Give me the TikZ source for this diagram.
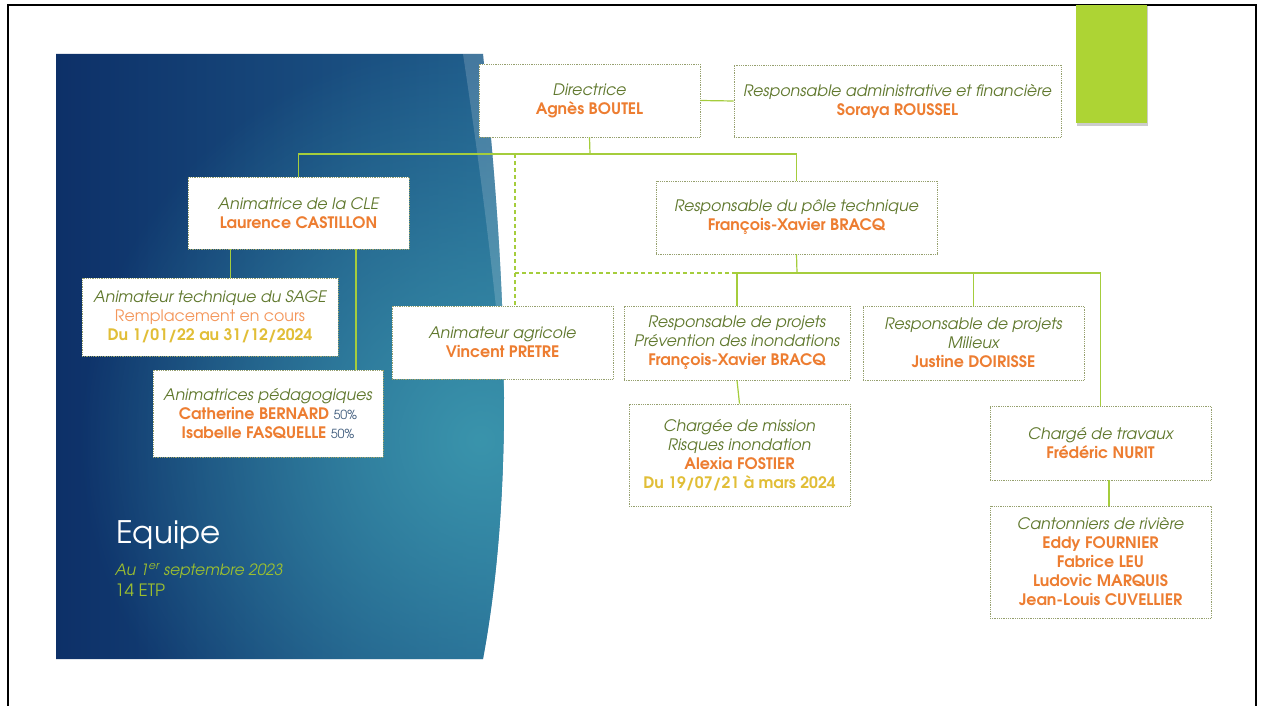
\documentclass[tikz,border=0pt]{standalone}
\usepackage{fontspec}
\setmainfont{texgyreadventor}[Extension=.otf, UprightFont=*-regular, BoldFont=*-bold, ItalicFont=*-italic, BoldItalicFont=*-bolditalic]
\usetikzlibrary{calc,positioning,fadings}
\definecolor{my_olive}{RGB}{96,120,45}
\definecolor{my_orange}{RGB}{237,125,49}
\definecolor{my_lightorange}{RGB}{244,150,90}
\definecolor{my_gold}{RGB}{225,190,55}
\definecolor{my_slate}{RGB}{68,96,128}
\definecolor{my_lime}{RGB}{165,205,60}
\definecolor{my_border}{RGB}{150,160,110}
\definecolor{my_green}{RGB}{173,212,52}
\definecolor{my_navy}{RGB}{13,48,104}
\definecolor{my_blue}{RGB}{33,96,142}
\definecolor{my_teal}{RGB}{58,148,172}
\newcommand{\fonction}[1]{{\itshape\color{my_olive}#1}}
\newcommand{\agent}[1]{{\bfseries\color{my_orange}#1}}
\newcommand{\periode}[1]{{\bfseries\color{my_gold}#1}}
\newcommand{\taux}[1]{{\fontsize{12.5}{14}\selectfont\color{my_slate}#1}}
\tikzfading[name=lueur, inner color=transparent!0, outer color=transparent!100]
\tikzset{
  orgbox/.style = {align=center, inner sep=2pt, rectangle, draw=my_border, densely dotted,
  line width=0.8pt, fill=white, font=\fontsize{15.8}{19}\selectfont},
  box_n/.style = {orgbox, minimum width=221pt, minimum height=73pt}
}
\begin{document}
\begin{tikzpicture}[x=1pt, y=-1pt,
        lien/.style={draw=my_lime, line width=1.2pt},
        lienpt/.style={lien, dash pattern=on 4pt off 3pt},
        soustitre/.style={anchor=base west, text=my_green!90!black, inner sep=0pt}]
    \useasboundingbox (0,0) rectangle (1264,706);
    % fond bleu
    \begin{scope}
        \clip (56,54) -- (483,54) .. controls (503,250) and (518,470) .. (483,659) -- (56,659) -- cycle;
        \shade[left color=my_navy, right color=my_blue] (56,54) rectangle (520,659);
        \fill[my_teal, path fading=lueur] (480,440) circle (400pt);
    \end{scope}
    \fill[white, opacity=0.17] (463,54) .. controls (485,200) and (500,330) .. (506,420)
        .. controls (505,250) and (495,130) .. (483,54) -- cycle;
    \draw[line width=2pt] (8,706) -- (8,5) -- (1256,5) -- (1256,706);
    \fill[black!20] (1077,6) rectangle (1148,126);
    \fill[my_green] (1076,5) rectangle (1147,123);
    \node[anchor=base west, text=white, inner sep=0pt, font=\fontsize{31}{36}\selectfont] (titre) at (116,543) {Equipe};
    \node[soustitre, font=\fontsize{15.5}{18}\selectfont\itshape] (date) at (115,575) {Au 1\textsuperscript{er} septembre 2023};
    \node[soustitre, font=\fontsize{17}{18}\selectfont] (etp) at (115,596) {14 ETP};
    % organigramme
    \node[box_n] (dir) at (589.5,100.5) {\fonction{Directrice}\\\agent{Agnès BOUTEL}};
    \node[orgbox, minimum width=327pt, minimum height=72pt] (adm) at (897.5,101) {\fonction{Responsable administrative et financière}\\\agent{Soraya ROUSSEL}};
    \node[box_n, minimum height=72pt] (cle) at (298.5,213) {\fonction{Animatrice de la CLE}\\\agent{Laurence CASTILLON}};
    \node[orgbox, minimum width=256pt, minimum height=78pt] (sage) at (210,317) {\fonction{Animateur technique du SAGE}\\{\color{my_lightorange}Remplacement en cours}\\\periode{Du 1/01/22 au 31/12/2024}};
    \node[orgbox, minimum width=230pt, minimum height=87pt] (peda) at (268,413.5) {\fonction{Animatrices pédagogiques}\\\agent{Catherine BERNARD} \taux{50\%}\\\agent{Isabelle FASQUELLE} \taux{50\%}};
    \node[box_n] (agri) at (502.5,342.5) {\fonction{Animateur agricole}\\\agent{Vincent PRETRE}};
    \node[box_n, minimum width=281pt] (pole) at (796.5,217.5) {\fonction{Responsable du pôle technique}\\\agent{François-Xavier BRACQ}};
    \node[box_n, minimum width=226pt, minimum height=74pt] (prev) at (737,343) {\fonction{Responsable de projets}\\\fonction{Prévention des inondations}\\\agent{François-Xavier BRACQ}};
    \node[box_n, minimum height=102pt] (mission) at (739.5,455) {\fonction{Chargée de mission}\\\fonction{Risques inondation}\\\agent{Alexia FOSTIER}\\\periode{Du 19/07/21 à mars 2024}};
    \node[box_n, minimum height=74pt] (milieux) at (973.5,343) {\fonction{Responsable de projets}\\\fonction{Milieux}\\\agent{Justine DOIRISSE}};
    \node[box_n, minimum height=74pt] (travaux) at (1100.5,443) {\fonction{Chargé de travaux}\\\agent{Frédéric NURIT}};
    \node[box_n, minimum height=112pt] (canton) at (1100.5,562) {\fonction{Cantonniers de rivière}\\\agent{Eddy FOURNIER}\\\agent{Fabrice LEU}\\\agent{Ludovic MARQUIS}\\\agent{Jean-Louis CUVELLIER}};
    % liens
    \coordinate (haut) at (590,154);
    \coordinate (tiret) at (515,154);
    \coordinate (bas) at (797,273);
    \draw[lien] (dir.east) -- (adm.west);
    \draw[lien] (dir.south) -- (haut);
    \draw[lien] (cle.north) |- (haut) -| (pole.north);
    \draw[lienpt] (tiret) -- (tiret |- agri.north);
    \draw[lienpt] (tiret |- bas) -- (prev.north |- bas);
    \draw[lien] (pole.south) -- (bas);
    \draw[lien] (prev.north) |- (bas) -| (travaux.north);
    \draw[lien] (milieux.north) -- (milieux.north |- bas);
    \draw[lien] ([xshift=-68pt]cle.south) -- ([xshift=-68pt]cle.south |- sage.north);
    \draw[lien] ([xshift=57.5pt]cle.south) -- ([xshift=57.5pt]cle.south |- peda.north);
    \draw[lien] (prev.south) -- (mission.north);
    \draw[lien] ([xshift=8.5pt]travaux.south) -- ([xshift=8.5pt]travaux.south |- canton.north);
\end{tikzpicture}
\end{document}
